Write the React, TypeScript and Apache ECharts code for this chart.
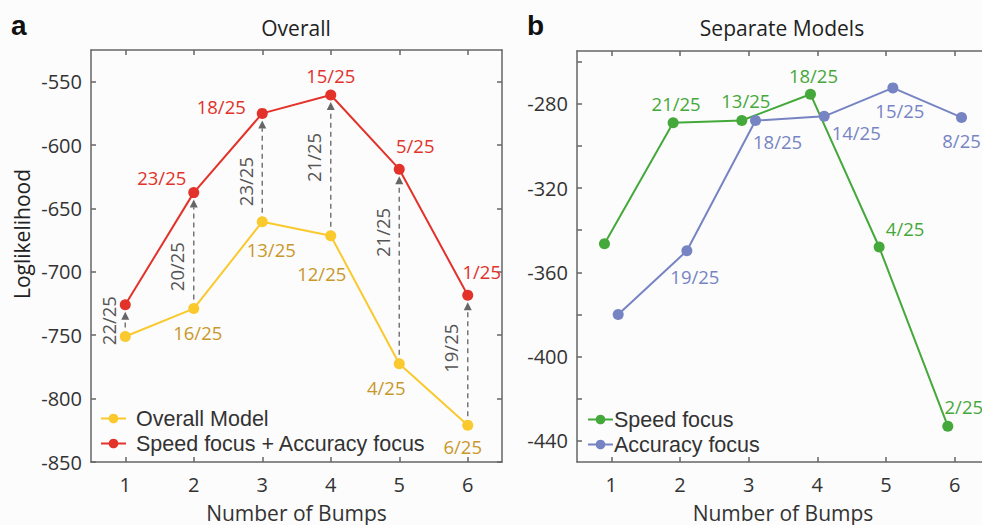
import React, { useEffect, useRef } from "react";
import * as echarts from "echarts";

// ---------- data ----------
const bumps = ["1", "2", "3", "4", "5", "6"];

const overallModel = [-751, -729, -660.5, -671.5, -772.5, -821];
const speedPlusAccuracy = [-726, -637.5, -575, -560.5, -619, -718.5];
const overallLabels = ["", "16/25", "13/25", "12/25", "4/25", "6/25"];
const combinedLabels = ["", "23/25", "18/25", "15/25", "5/25", "1/25"];
const arrowLabels = ["22/25", "20/25", "23/25", "21/25", "21/25", "19/25"];

const speedFocus = [-346.5, -289, -288, -275.5, -348, -433];
const accuracyFocus = [-380, -349.8, -288, -286, -272.5, -286.5];
const speedLabels = ["", "21/25", "13/25", "18/25", "4/25", "2/25"];
const accuracyLabels = ["", "19/25", "18/25", "14/25", "15/25", "8/25"];

const leftYTicks = [-850, -800, -750, -700, -650, -600, -550];
const rightYLabels = [-440, -400, -360, -320, -280];
const rightYTicks = [-440, -420, -400, -380, -360, -340, -320, -300, -280, -260];

// ---------- styling (not data) ----------
const overallOffsets = [[0, 0], [4, 24], [9, 28], [-9, 38], [-13, 24], [-5, 21]];
const combinedOffsets = [[0, 0], [-32, -15], [-41, -7], [0, -20], [16, -24], [14, -24]];
const speedOffsets = [[0, 0], [3, -19], [4, -20], [3, -19], [26, -19], [16, -20]];
const accuracyOffsets = [[0, 0], [8, 26], [22, 21], [32, 16], [7, 23], [0, 23]];
const arrowLabelShift = [0, 16, 14, -8, -34, -12];
const sideShift = 0.1;

const FONT = '"Open Sans", "Noto Sans", sans-serif';
const LEGEND_FONT = '"Liberation Sans", Arial, sans-serif';
const RED = "#e2322a";
const YELLOW = "#f9c92d";
const YELLOW_TXT = "#c9982a";
const GREEN = "#45a83a";
const BLUE = "#7784c3";
const AXIS = "#666";
const TXT = "#333";

function labelled(values: number[], labels: string[], offsets: number[][], color: string, xs?: number[]) {
  return values.map((v, i) => ({
    value: xs ? [xs[i], v] : v,
    label: {
      show: labels[i] !== "",
      formatter: labels[i],
      position: "inside",
      offset: offsets[i],
      color,
      fontSize: 18.5,
      fontFamily: FONT,
    },
  }));
}

export default function App() {
  const ref = useRef<HTMLDivElement>(null);
  useEffect(() => {
    if (!ref.current) return;
    const chart = echarts.init(ref.current, undefined, { renderer: "svg" });

    const catAxis = (gridIndex: number, position: string, withLabels: boolean, name?: string) => ({
      type: "category",
      gridIndex,
      position,
      data: bumps,
      boundaryGap: true,
      axisLine: { show: true, lineStyle: { color: AXIS, width: 1.5 } },
      axisTick: { show: true, inside: true, alignWithLabel: true, length: 5, lineStyle: { color: AXIS, width: 1.5 } },
      axisLabel: { show: withLabels, fontSize: 20, fontFamily: FONT, color: TXT, margin: 12 },
      splitLine: { show: false },
      name: name || "",
      nameLocation: "middle",
      nameGap: 40,
      nameTextStyle: { fontSize: 21, fontFamily: FONT, color: TXT },
    });

    const valAxis = (gridIndex: number, position: string, min: number, max: number, labels: number[] | null, ticks: number[]) => ({
      type: "value",
      gridIndex,
      position,
      min,
      max,
      axisLine: { show: true, lineStyle: { color: AXIS, width: 1.5 } },
      axisTick: { show: true, inside: true, length: 5, customValues: ticks, lineStyle: { color: AXIS, width: 1.5 } },
      axisLabel: labels
        ? { show: true, customValues: labels, fontSize: 20, fontFamily: FONT, color: TXT, margin: 9 }
        : { show: false },
      splitLine: { show: false },
    });

    const lineSeries = (name: string, color: string, data: any, xAxisIndex: number, yAxisIndex: number) => ({
      type: "line",
      name,
      xAxisIndex,
      yAxisIndex,
      data,
      symbol: "circle",
      symbolSize: 11,
      lineStyle: { color, width: 2 },
      itemStyle: { color },
      z: 3,
    });

    const legendText = { fontSize: 21.5, fontFamily: LEGEND_FONT, color: TXT, lineHeight: 25 };

    const option: any = {
      animation: false,
      backgroundColor: "#fcfcfc",
      grid: [
        { left: 91, top: 50, width: 411, height: 412, containLabel: false, outerBoundsMode: "none" },
        { left: 577, top: 51, width: 412, height: 411, containLabel: false, outerBoundsMode: "none" },
      ],
      xAxis: [
        catAxis(0, "bottom", true, "Number of Bumps"),
        catAxis(0, "top", false),
        catAxis(1, "bottom", true, "Number of Bumps"),
        catAxis(1, "top", false),
        { type: "value", gridIndex: 1, min: 0.5, max: 6.5, show: false },
      ],
      yAxis: [
        valAxis(0, "left", -850, -525, leftYTicks, leftYTicks),
        valAxis(0, "right", -850, -525, null, leftYTicks),
        valAxis(1, "left", -450, -255, rightYLabels, rightYTicks),
        valAxis(1, "right", -450, -255, null, rightYTicks),
      ],
      legend: [
        {
          orient: "vertical",
          left: 100,
          top: 406,
          padding: 0,
          itemWidth: 25,
          itemHeight: 12,
          itemGap: 0,
          data: ["Overall Model", "Speed focus + Accuracy focus"],
          textStyle: { ...legendText, padding: [0, 0, 0, 5] },
        },
        {
          orient: "vertical",
          left: 587,
          top: 407,
          padding: 0,
          itemWidth: 25,
          itemHeight: 12,
          itemGap: 0,
          data: ["Speed focus", "Accuracy focus"],
          textStyle: { ...legendText, padding: [0, 0, 0, -4] },
        },
      ],
      graphic: [
        { type: "text", x: 11, y: 25, style: { text: "a", fontSize: 28, fontWeight: "bold", fontFamily: '"Liberation Sans", Arial, sans-serif', fill: "#111", verticalAlign: "middle" } },
        { type: "text", x: 527, y: 25, style: { text: "b", fontSize: 28, fontWeight: "bold", fontFamily: '"Liberation Sans", Arial, sans-serif', fill: "#111", verticalAlign: "middle" } },
        { type: "text", x: 296, y: 28, style: { text: "Overall", fontSize: 21, fontFamily: FONT, fill: "#222", align: "center", verticalAlign: "middle" } },
        { type: "text", x: 782, y: 28, style: { text: "Separate Models", fontSize: 21, fontFamily: FONT, fill: "#222", align: "center", verticalAlign: "middle" } },
        { type: "text", x: 22, y: 234, rotation: Math.PI / 2, style: { text: "Loglikelihood", fontSize: 21, fontFamily: FONT, fill: "#222", align: "center", verticalAlign: "middle" } },
      ],
      series: [
        {
          type: "custom",
          xAxisIndex: 0,
          yAxisIndex: 0,
          z: 1,
          data: bumps.map((_, i) => [i, overallModel[i], speedPlusAccuracy[i]]),
          encode: { x: 0, y: [1, 2] },
          renderItem: (params: any, api: any) => {
            const i = api.value(0);
            const lo = api.coord([i, api.value(1)]);
            const hi = api.coord([i, api.value(2)]);
            const tipY = hi[1] + 7;
            const headH = 8;
            const headW = 4;
            return {
              type: "group",
              children: [
                { type: "line", shape: { x1: lo[0], y1: lo[1], x2: hi[0], y2: tipY + headH }, style: { stroke: "#777", lineWidth: 1.5, lineDash: [5, 4] } },
                { type: "polygon", shape: { points: [[hi[0], tipY], [hi[0] - headW, tipY + headH], [hi[0] + headW, tipY + headH]] }, style: { fill: "#666" } },
                {
                  type: "text",
                  x: lo[0] - 17,
                  y: (lo[1] + hi[1]) / 2 + arrowLabelShift[params.dataIndex],
                  rotation: Math.PI / 2,
                  style: { text: arrowLabels[params.dataIndex], fill: "#555", fontSize: 18.5, fontFamily: FONT, align: "center", verticalAlign: "middle" },
                },
              ],
            };
          },
        },
        lineSeries("Overall Model", YELLOW, labelled(overallModel, overallLabels, overallOffsets, YELLOW_TXT), 0, 0),
        lineSeries("Speed focus + Accuracy focus", RED, labelled(speedPlusAccuracy, combinedLabels, combinedOffsets, RED), 0, 0),
        lineSeries("Speed focus", GREEN, labelled(speedFocus, speedLabels, speedOffsets, GREEN, bumps.map((b) => Number(b) - sideShift)), 4, 2),
        lineSeries("Accuracy focus", BLUE, labelled(accuracyFocus, accuracyLabels, accuracyOffsets, BLUE, bumps.map((b) => Number(b) + sideShift)), 4, 2),
      ],
    };

    chart.setOption(option);
    return () => chart.dispose();
  }, []);

  return <div ref={ref} style={{ position: "fixed", left: 0, top: 0, width: 982, height: 525 }} />;
}
